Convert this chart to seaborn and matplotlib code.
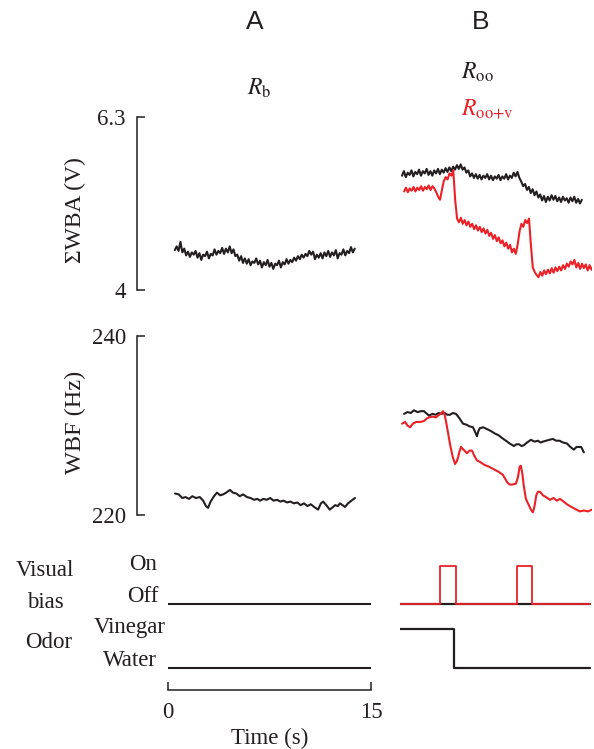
import numpy as np
import pandas as pd
import matplotlib
matplotlib.use("Agg")
import matplotlib.pyplot as plt
import seaborn as sns

# ---------------- data ----------------
# Panel A, sum WBA (V), time 0.5 .. 13.8 s
wba_a_t0, wba_a_dt = 0.5, 0.14
wba_a = [4.53, 4.58, 4.52, 4.64, 4.50, 4.55, 4.46, 4.51, 4.44, 4.50,
         4.47, 4.52, 4.43, 4.49, 4.40, 4.47, 4.45, 4.51, 4.42, 4.48,
         4.46, 4.54, 4.47, 4.52, 4.49, 4.56, 4.48, 4.55, 4.50, 4.58,
         4.49, 4.54, 4.45, 4.47, 4.39, 4.45, 4.36, 4.42, 4.35, 4.41,
         4.33, 4.38, 4.36, 4.42, 4.34, 4.39, 4.30, 4.37, 4.33, 4.40,
         4.31, 4.36, 4.28, 4.35, 4.33, 4.39, 4.30, 4.37, 4.34, 4.41,
         4.35, 4.40, 4.37, 4.43, 4.39, 4.45, 4.41, 4.47, 4.43, 4.48,
         4.45, 4.52, 4.47, 4.51, 4.41, 4.47, 4.43, 4.49, 4.42, 4.50,
         4.45, 4.52, 4.44, 4.50, 4.46, 4.53, 4.42, 4.49, 4.47, 4.54,
         4.46, 4.52, 4.49, 4.57, 4.50, 4.55]

# Panel B, sum WBA, odor only (black), time 0.15 .. 13.45 s
wba_b_oo_t0, wba_b_oo_dt = 0.15, 0.14
wba_b_oo = [5.52, 5.58, 5.50, 5.56, 5.53, 5.59, 5.51, 5.57, 5.54, 5.60,
            5.52, 5.58, 5.55, 5.61, 5.53, 5.58, 5.52, 5.59, 5.55, 5.61,
            5.54, 5.60, 5.56, 5.62, 5.57, 5.63, 5.58, 5.64, 5.60, 5.66,
            5.61, 5.67, 5.60, 5.63, 5.56, 5.59, 5.51, 5.55, 5.49, 5.54,
            5.48, 5.53, 5.47, 5.52, 5.49, 5.54, 5.47, 5.52, 5.46, 5.51,
            5.48, 5.53, 5.46, 5.51, 5.48, 5.54, 5.47, 5.52, 5.49, 5.56,
            5.51, 5.57, 5.49, 5.44, 5.38, 5.41, 5.33, 5.37, 5.29, 5.34,
            5.26, 5.31, 5.23, 5.27, 5.19, 5.25, 5.17, 5.24, 5.19, 5.26,
            5.20, 5.25, 5.18, 5.23, 5.17, 5.24, 5.19, 5.22, 5.16, 5.23,
            5.18, 5.24, 5.16, 5.21, 5.15, 5.20]

# Panel B, sum WBA, odor + visual (red), time 0.30 .. 14.30 s
wba_b_oov_t0, wba_b_oov_dt = 0.30, 0.14
wba_b_oov = [5.31, 5.36, 5.30, 5.35, 5.32, 5.37, 5.31, 5.36, 5.33, 5.38,
             5.32, 5.37, 5.34, 5.39, 5.33, 5.38, 5.35, 5.30, 5.24, 5.20,
             5.33, 5.45, 5.50, 5.47, 5.55, 5.52, 5.59, 5.20, 4.95, 4.90,
             4.96, 4.88, 4.93, 4.86, 4.91, 4.84, 4.88, 4.81, 4.86, 4.79,
             4.84, 4.77, 4.82, 4.75, 4.80, 4.72, 4.76, 4.68, 4.73, 4.65,
             4.70, 4.62, 4.66, 4.58, 4.63, 4.55, 4.60, 4.50, 4.55, 4.48,
             4.60, 4.78, 4.88, 4.84, 4.93, 4.89, 4.95, 4.60, 4.30, 4.24,
             4.20, 4.17, 4.24, 4.19, 4.26, 4.21, 4.27, 4.22, 4.29, 4.23,
             4.30, 4.25, 4.31, 4.26, 4.33, 4.28, 4.35, 4.31, 4.38, 4.34,
             4.40, 4.30, 4.36, 4.28, 4.35, 4.29, 4.34, 4.26, 4.33, 4.27,
             4.32]

# WBF (Hz)
wbf_a_t = [0.52, 0.80, 1.05, 1.30, 1.55, 1.80, 2.05, 2.35, 2.60, 2.80,
           2.96, 3.15, 3.40, 3.62, 3.85, 4.07, 4.30, 4.58, 4.80, 5.05,
           5.30, 5.55, 5.84, 6.10, 6.35, 6.60, 6.80, 7.05, 7.30, 7.55,
           7.80, 8.06, 8.30, 8.55, 8.80, 9.05, 9.30, 9.55, 9.80, 10.05,
           10.30, 10.55, 10.80, 11.09, 11.30, 11.46, 11.70, 11.95, 12.12, 12.35,
           12.55, 12.71, 12.90, 13.08, 13.30, 13.55, 13.82]
wbf_a = [222.4, 222.3, 221.9, 222.0, 221.8, 222.1, 221.9, 222.0, 221.6, 221.0,
         220.8, 221.5, 222.1, 222.5, 222.2, 222.3, 222.5, 222.8, 222.5, 222.4,
         222.1, 222.3, 222.0, 221.9, 221.7, 221.8, 221.6, 221.8, 221.7, 221.9,
         221.6, 221.7, 221.5, 221.6, 221.4, 221.5, 221.3, 221.4, 221.1, 221.3,
         221.0, 221.2, 220.9, 220.6, 221.3, 221.5, 221.1, 220.6, 220.8, 221.1,
         221.0, 221.3, 221.1, 220.9, 221.3, 221.6, 221.9]

wbf_b_oo_t = [0.30, 0.55, 0.80, 1.03, 1.30, 1.55, 1.77, 2.00, 2.14, 2.40,
              2.65, 2.85, 3.03, 3.30, 3.50, 3.70, 3.90, 4.14, 4.40, 4.66,
              4.90, 5.15, 5.40, 5.55, 5.69, 5.80, 5.91, 6.15, 6.43, 6.70,
              7.02, 7.30, 7.55, 7.83, 8.10, 8.43, 8.60, 8.80, 9.00, 9.16,
              9.40, 9.68, 9.95, 10.20, 10.40, 10.57, 10.80, 11.05, 11.31, 11.55,
              11.80, 12.05, 12.34, 12.60, 12.86, 13.05, 13.23, 13.40, 13.60]
wbf_b_oo = [231.3, 231.5, 231.4, 231.7, 231.5, 231.6, 231.6, 231.3, 231.1, 231.3,
            231.2, 231.4, 231.3, 231.4, 231.2, 231.2, 231.4, 231.3, 230.8, 230.2,
            230.1, 229.9, 229.8, 229.3, 228.8, 229.4, 229.7, 229.8, 229.6, 229.4,
            229.1, 228.9, 228.6, 228.3, 228.0, 227.7, 227.9, 227.9, 227.7, 227.8,
            228.1, 228.4, 228.2, 228.3, 228.1, 228.2, 228.3, 228.4, 228.5, 228.3,
            228.3, 228.1, 228.0, 227.6, 227.3, 227.6, 227.6, 227.6, 227.0]

wbf_b_oov_t = [0.15, 0.37, 0.55, 0.75, 0.95, 1.20, 1.50, 1.77, 2.00, 2.14,
               2.40, 2.65, 2.81, 3.00, 3.18, 3.30, 3.40, 3.55, 3.70, 3.90,
               4.07, 4.20, 4.29, 4.40, 4.51, 4.70, 4.95, 5.15, 5.32, 5.50,
               5.69, 5.95, 6.25, 6.58, 6.95, 7.32, 7.60, 7.80, 7.91, 8.10,
               8.30, 8.57, 8.72, 8.85, 8.94, 9.05, 9.16, 9.31, 9.50, 9.68,
               9.83, 9.95, 10.08, 10.20, 10.35, 10.57, 10.80, 11.09, 11.35, 11.60,
               11.83, 12.10, 12.35, 12.56, 12.80, 13.05, 13.30, 13.60, 13.90, 14.19]
wbf_b_oov = [230.2, 230.4, 230.0, 229.8, 230.2, 230.4, 230.4, 230.5, 230.8, 230.9,
             231.0, 230.9, 231.1, 231.3, 231.6, 231.2, 230.5, 229.2, 227.9, 226.5,
             225.7, 226.0, 226.4, 227.1, 227.6, 227.3, 226.9, 227.2, 227.2, 226.6,
             226.1, 225.9, 225.6, 225.4, 225.1, 224.8, 224.5, 224.0, 223.7, 223.4,
             223.4, 223.5, 224.2, 225.4, 225.5, 224.6, 223.2, 221.8, 221.2, 220.6,
             220.3, 221.0, 222.2, 222.6, 222.6, 222.2, 222.0, 221.7, 221.9, 221.6,
             221.8, 221.5, 221.2, 221.0, 220.8, 220.6, 220.4, 220.5, 220.4, 220.6]

# Stimuli (0 = Off / Water, 1 = On / Vinegar)
stim_a_t = [0.0, 15.0]
vis_a = [0, 0]
odor_a = [0, 0]
vis_b_t = [0.0, 2.96, 4.14, 8.65, 9.76, 14.04]
vis_b = [0, 1, 0, 1, 0, 0]
odor_b_t = [0.0, 3.99, 14.04]
odor_b = [1, 0, 0]

# labels
wba_ticks = [4, 6.3]
wba_ticklabels = ["4", "6.3"]
wbf_ticks = [220, 240]
wbf_ticklabels = ["220", "240"]
time_ticks = [0, 15]
time_ticklabels = ["0", "15"]

# ---------------- style ----------------
sns.set_theme(style="white")
plt.rcParams["font.family"] = ["Liberation Serif", "DejaVu Serif"]
plt.rcParams["mathtext.fontset"] = "stix"
plt.rcParams["axes.linewidth"] = 1.1

BLACK = "#231f20"
RED = "#ec2127"
FS = 16.5

W, H = 594, 749
fig = plt.figure(figsize=(W / 100, H / 100), dpi=100)


def add_ax(x0, y0, x1, y1):
    return fig.add_axes([x0 / W, 1 - y1 / H, (x1 - x0) / W, (y1 - y0) / H])


def clean(ax):
    for s in ax.spines.values():
        s.set_visible(False)
    ax.set_xticks([])
    ax.set_yticks([])
    ax.set_xlabel("")
    ax.set_ylabel("")
    ax.patch.set_alpha(0)


def series(t0, dt, vals):
    t = t0 + dt * np.arange(len(vals))
    return pd.DataFrame({"t": t, "v": vals})


def line(ax, df, color, lw, **kw):
    sns.lineplot(data=df, x="t", y="v", ax=ax, color=color, lw=lw,
                 estimator=None, sort=False, legend=False, **kw)


XA = (168, 371)
XB = (400, 592)
TB = 14.2

# ---- sum WBA ----
axA1 = add_ax(XA[0], 117, XA[1], 290)
line(axA1, series(wba_a_t0, wba_a_dt, wba_a), BLACK, 1.5)
axA1.set_xlim(0, 15)
axA1.set_ylim(4, 6.3)
clean(axA1)
axA1.spines["left"].set_visible(True)
axA1.spines["left"].set_position(("outward", 31 * 0.72))
axA1.spines["left"].set_color(BLACK)
axA1.set_yticks(wba_ticks)
axA1.set_yticklabels(wba_ticklabels, fontsize=FS, color=BLACK)
axA1.tick_params(axis="y", direction="in", length=5.5, width=1.1, pad=8,
                 colors=BLACK, left=True)

axB1 = add_ax(XB[0], 117, XB[1], 290)
line(axB1, series(wba_b_oo_t0, wba_b_oo_dt, wba_b_oo), BLACK, 1.5)
line(axB1, series(wba_b_oov_t0, wba_b_oov_dt, wba_b_oov), RED, 1.5)
axB1.set_xlim(0, TB)
axB1.set_ylim(4, 6.3)
clean(axB1)

# ---- WBF ----
axA2 = add_ax(XA[0], 336, XA[1], 515)
line(axA2, pd.DataFrame({"t": wbf_a_t, "v": wbf_a}), BLACK, 1.5)
axA2.set_xlim(0, 15)
axA2.set_ylim(220, 240)
clean(axA2)
axA2.spines["left"].set_visible(True)
axA2.spines["left"].set_position(("outward", 31 * 0.72))
axA2.spines["left"].set_color(BLACK)
axA2.set_yticks(wbf_ticks)
axA2.set_yticklabels(wbf_ticklabels, fontsize=FS, color=BLACK)
axA2.tick_params(axis="y", direction="in", length=5.5, width=1.1, pad=8,
                 colors=BLACK, left=True)

axB2 = add_ax(XB[0], 336, XB[1], 515)
line(axB2, pd.DataFrame({"t": wbf_b_oo_t, "v": wbf_b_oo}), BLACK, 1.5)
line(axB2, pd.DataFrame({"t": wbf_b_oov_t, "v": wbf_b_oov}), RED, 1.5)
axB2.set_xlim(0, TB)
axB2.set_ylim(220, 240)
clean(axB2)

# ---- visual bias ----
vis_lim = (-10 / 38, 1 + 10 / 38)
axA3 = add_ax(XA[0], 556, XA[1], 614)
line(axA3, pd.DataFrame({"t": stim_a_t, "v": vis_a}), BLACK, 1.5)
axA3.set_xlim(0, 15)
axA3.set_ylim(*vis_lim)
clean(axA3)

axB3 = add_ax(XB[0], 556, XB[1], 614)
line(axB3, pd.DataFrame({"t": [0.0, 14.04], "v": [0, 0]}), BLACK, 1.6)
line(axB3, pd.DataFrame({"t": vis_b_t, "v": vis_b}), RED, 1.3,
     drawstyle="steps-post")
axB3.set_xlim(0, TB)
axB3.set_ylim(*vis_lim)
clean(axB3)

# ---- odor ----
odor_lim = (-10 / 39, 1 + 10 / 39)
axA4 = add_ax(XA[0], 619, XA[1], 678)
line(axA4, pd.DataFrame({"t": stim_a_t, "v": odor_a}), BLACK, 1.5)
axA4.set_xlim(0, 15)
axA4.set_ylim(*odor_lim)
clean(axA4)

axB4 = add_ax(XB[0], 619, XB[1], 678)
line(axB4, pd.DataFrame({"t": odor_b_t, "v": odor_b}), BLACK, 1.6,
     drawstyle="steps-post")
axB4.set_xlim(0, TB)
axB4.set_ylim(*odor_lim)
clean(axB4)

# ---- time bracket ----
axT = add_ax(XA[0], 680, XA[1], 690)
axT.set_xlim(0, 15)
axT.set_ylim(0, 1)
clean(axT)
axT.spines["bottom"].set_visible(True)
axT.spines["bottom"].set_color(BLACK)
axT.set_xticks(time_ticks)
axT.set_xticklabels(time_ticklabels, fontsize=FS, color=BLACK)
axT.tick_params(axis="x", direction="in", length=5.5, width=1.1, pad=9,
                colors=BLACK, bottom=True)


# ---------------- texts ----------------
def ftext(x, y, s, **kw):
    kw.setdefault("fontsize", FS)
    kw.setdefault("color", BLACK)
    fig.text(x / W, 1 - y / H, s, **kw)


ftext(255, 22, "A", ha="center", va="center", fontsize=19,
      family=["Liberation Sans", "DejaVu Sans"])
ftext(481, 22, "B", ha="center", va="center", fontsize=19,
      family=["Liberation Sans", "DejaVu Sans"])
ftext(247, 88, r"$R_{\mathrm{b}}$", ha="left", va="center", fontsize=17)
ftext(461, 72, r"$R_{\mathrm{oo}}$", ha="left", va="center", fontsize=17)
ftext(461, 109, r"$R_{\mathrm{oo{+}v}}$", ha="left", va="center", fontsize=17,
      color=RED)

ftext(75, 210, "ΣWBA (V)", ha="center", va="center", rotation=90, fontsize=17)
ftext(75, 422, "WBF (Hz)", ha="center", va="center", rotation=90, fontsize=17.5)

ftext(45, 571, "Visual", ha="center", va="center")
ftext(45, 602, "bias", ha="center", va="center")
ftext(49, 643, "Odor", ha="center", va="center")
ftext(157, 565, "On", ha="right", va="center")
ftext(158, 596, "Off", ha="right", va="center")
ftext(166, 628, "Vinegar", ha="right", va="center")
ftext(157, 660, "Water", ha="right", va="center")
ftext(270, 738, "Time (s)", ha="center", va="center")

fig.savefig("out.png", dpi=100)
